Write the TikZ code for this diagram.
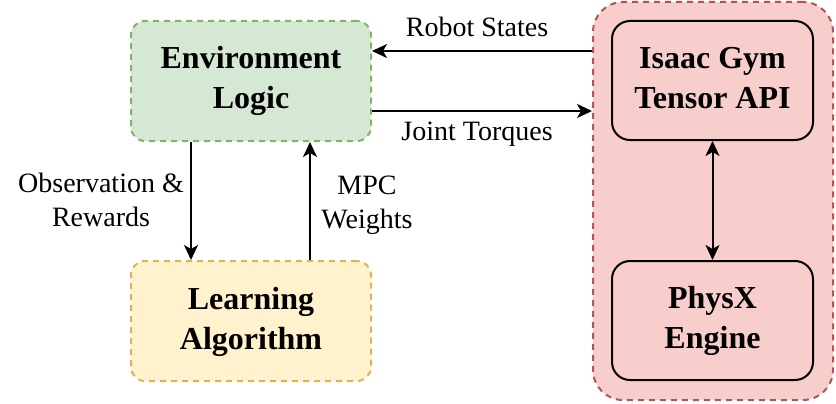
\documentclass[tikz,border=0pt]{standalone}
\usepackage{fontspec}
\setmainfont{Liberation Serif}
\usetikzlibrary{arrows.meta,calc}
\definecolor{gfill}{HTML}{D5E8D4}\definecolor{gline}{HTML}{82B366}
\definecolor{yfill}{HTML}{FFF2CC}\definecolor{yline}{HTML}{D6B656}
\definecolor{rfill}{HTML}{F8CECC}\definecolor{rline}{HTML}{B85450}
\newcommand\twolines[2]{\raisebox{-4pt}{\begin{tabular}{@{}c@{}}#1\\#2\end{tabular}}}
\tikzset{
  boxtxt/.style={font=\fontsize{32}{40}\selectfont\bfseries, align=center, inner sep=0pt},
  dbox/.style={boxtxt, rectangle, rounded corners=14pt, line width=2pt, dash pattern=on 6pt off 5pt, minimum width=240pt, minimum height=120pt},
  sbox/.style={boxtxt, rectangle, rounded corners=18pt, draw=black, line width=2pt, fill=rfill, minimum width=201pt, minimum height=119pt},
  lbl/.style={font=\fontsize{28}{33.6}\selectfont, align=center, inner sep=0pt},
  arr/.style={line width=2pt, -{Stealth[length=15pt,width=14pt,inset=4pt]}},
  darr/.style={line width=2pt, {Stealth[length=15pt,width=14pt,inset=4pt]}-{Stealth[length=15pt,width=14pt,inset=4pt]}}
}
\begin{document}
\begin{tikzpicture}[x=1pt,y=-1pt]
\useasboundingbox (0,0) rectangle (836,404);
\node[dbox, draw=rline, fill=rfill, rounded corners=30pt, minimum width=240pt, minimum height=398pt] (cont) at (713,201) {};
\node[dbox, draw=gline, fill=gfill] (env) at (251,81) {\twolines{Environment}{Logic}};
\node[dbox, draw=yline, fill=yfill] (learn) at (251,321) {\twolines{Learning}{Algorithm}};
\node[sbox] (isaac) at (712.5,80.5) {\twolines{Isaac Gym}{Tensor API}};
\node[sbox] (physx) at (712.5,320.5) {\twolines{PhysX}{Engine}};
\coordinate (rs) at ([yshift=30pt]env.east);
\coordinate (jt) at ([yshift=-30pt]env.east);
\draw[arr] (rs -| cont.west) -- (rs);
\draw[arr] (jt) -- (jt -| cont.west);
\draw[arr] ([xshift=-60pt]env.south) -- ([xshift=-60pt]env.south |- learn.north);
\draw[arr] ([xshift=59pt]learn.north) -- ([xshift=59pt]learn.north |- env.south);
\draw[darr] (isaac.south) -- (physx.north);
\node[lbl] (lrs) at (477,27) {Robot States};
\node[lbl] (ljt) at (477,134) {Joint Torques};
\node[lbl] (lobs) at (101,200) {Observation \&\\Rewards};
\node[lbl] (lmpc) at (367,205) {MPC\\Weights};
\end{tikzpicture}
\end{document}
